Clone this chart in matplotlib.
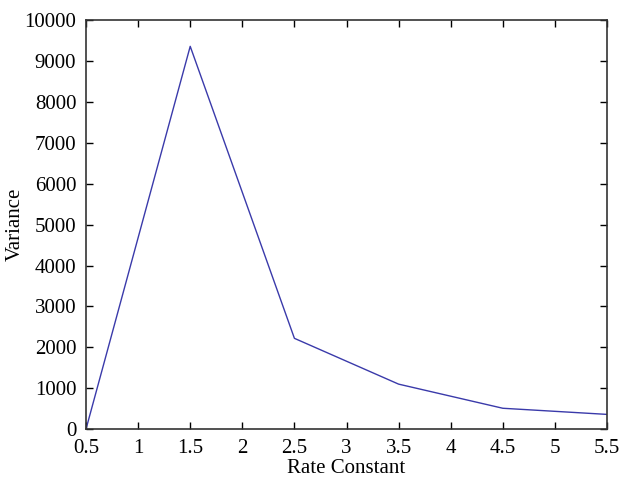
import matplotlib
matplotlib.use("Agg")
import matplotlib.pyplot as plt

plt.rcParams['font.family'] = ['Liberation Serif', 'DejaVu Serif']

rate_constant = [0.5, 1.5, 2.5, 3.5, 4.5, 5.5]
variance = [0, 9360, 2220, 1100, 510, 360]

fig = plt.figure(figsize=(6.21, 4.8), dpi=100)
ax = fig.add_axes([0.1385, 0.106, 0.839, 0.852])
ax.plot(rate_constant, variance, color='#3a3aaa', linewidth=1.0)

ax.set_xlim(0.5, 5.5)
ax.set_ylim(0, 10000)
ax.set_xticks([0.5, 1, 1.5, 2, 2.5, 3, 3.5, 4, 4.5, 5, 5.5])
ax.set_xticklabels(['0.5', '1', '1.5', '2', '2.5', '3', '3.5', '4', '4.5', '5', '5.5'])
ax.set_yticks(range(0, 10001, 1000))
ax.tick_params(direction='in', top=True, right=True, labelsize=15, length=5, width=1)
ax.tick_params(axis='x', pad=7)
ax.tick_params(axis='y', pad=7)
for s in ax.spines.values():
    s.set_linewidth(1.2)
    s.set_color('#333333')

ax.set_xlabel('Rate Constant', fontsize=15, labelpad=1)
ax.set_ylabel('Variance', fontsize=15, labelpad=0)

fig.savefig('out.png', dpi=100)
